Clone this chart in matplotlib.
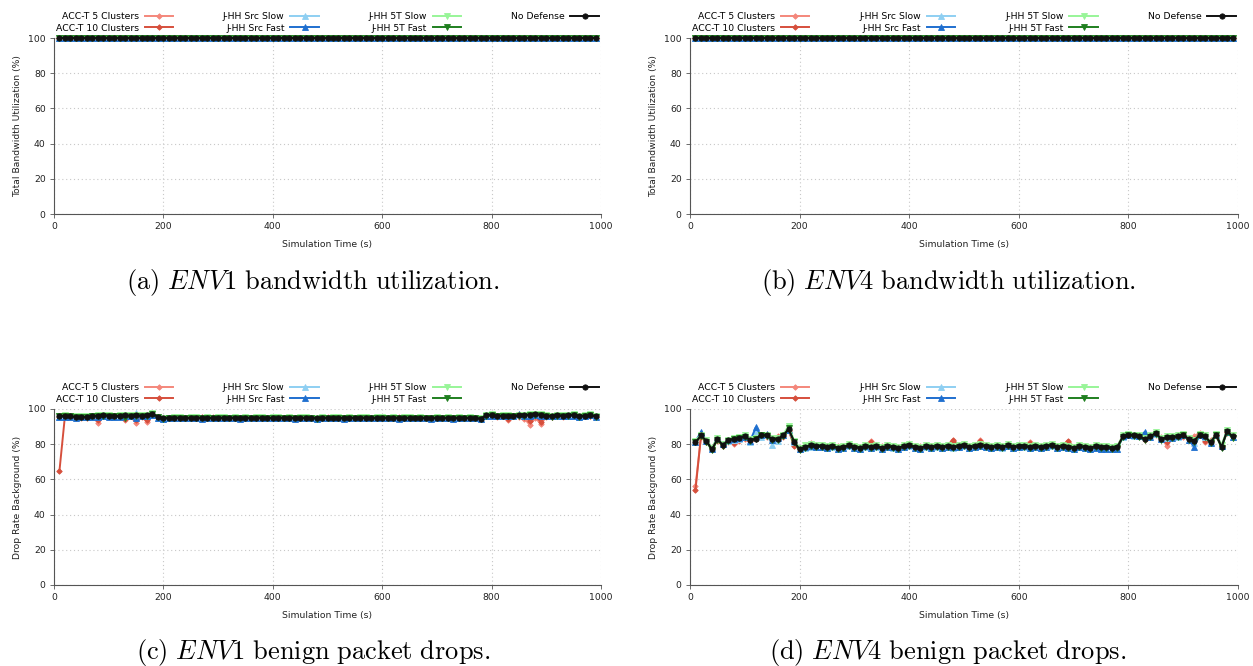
import matplotlib
matplotlib.use("Agg")
import matplotlib.pyplot as plt

plt.rcParams['font.family'] = ['DejaVu Sans']
plt.rcParams['mathtext.fontset'] = 'cm'

# ---------------- data ----------------
time_s = list(range(10, 1000, 10))  # 99 sample times

series_labels = ["ACC-T 5 Clusters", "ACC-T 10 Clusters", "J-HH Src Slow",
                 "J-HH Src Fast", "J-HH 5T Slow", "J-HH 5T Fast", "No Defense"]

# (a)/(b): total bandwidth utilization - every series sits at 100 %
env1_util = [100.0] * 99
env4_util = [100.0] * 99

# (c) ENV1 benign drop rate (%)
env1_acc5 = [95.6, 95.8, 95.5, 95.0, 94.8, 95.2, 95.5, 92.3, 95.8, 95.5, 95.2, 95.6, 93.8, 95.8, 92.0, 95.5, 92.8, 96.6,
             95.2, 94.9, 95.0, 95.2, 94.9, 95.1, 95.0, 94.8, 95.1, 95.0,
             95.2, 94.9, 95.0, 95.1, 94.9, 95.0, 95.2, 95.0, 94.9, 95.0,
             95.1, 95.0, 95.3, 94.9, 95.0, 95.1, 95.0, 94.9, 95.0, 95.1,
             95.0, 95.2, 94.9, 95.0, 95.1, 95.0, 94.9, 95.0, 95.2, 95.0,
             95.0, 94.9, 95.1, 95.0, 95.2, 95.0, 94.9, 95.0, 95.1, 95.0,
             95.0, 94.9, 95.0, 95.1, 95.0, 94.9, 95.0, 95.1, 95.0, 94.8,
             96.0, 96.2, 95.5, 95.8, 93.8, 95.8, 95.5, 94.5, 91.0, 95.0, 91.5, 95.5, 95.2, 96.0, 95.5, 95.8, 96.0, 95.5, 95.8, 96.0, 95.5]
env1_acc10 = [65.0, 96.0, 95.8, 95.2, 95.5, 95.0, 95.8, 93.5, 96.2, 95.8, 95.5, 95.8, 94.5, 96.0, 94.0, 95.8, 93.5, 96.8,
              95.4, 94.8, 95.1, 95.0, 95.0, 94.9, 95.1, 95.0, 95.2, 94.9,
              95.0, 95.0, 95.1, 94.8, 95.0, 95.1, 95.0, 95.0, 94.9, 95.1,
              95.0, 95.0, 94.9, 95.0, 95.2, 95.0, 94.9, 95.1, 95.0, 95.0,
              95.0, 94.9, 95.1, 95.0, 95.0, 95.2, 94.9, 95.0, 95.0, 95.1,
              95.0, 95.0, 94.9, 95.1, 95.0, 95.0, 95.1, 94.9, 95.0, 95.0,
              95.1, 95.0, 94.9, 95.0, 95.0, 95.1, 95.0, 94.9, 95.0, 94.6,
              96.2, 96.4, 95.8, 96.0, 94.5, 96.0, 95.8, 95.5, 93.0, 95.8, 92.8, 96.0, 95.6, 96.2, 95.8, 96.0, 96.4, 95.5, 96.0, 96.2, 95.6]
env1_src_slow = [95.5, 95.8, 95.6, 95.2, 95.8, 95.4, 95.6, 95.8, 96.0, 95.8, 95.6, 95.9, 96.0, 96.2, 97.5, 96.0, 96.2, 96.8,
                 95.0, 94.6, 94.8, 94.9, 95.0, 94.8, 94.9, 95.0, 94.7, 94.9,
                 94.8, 95.0, 94.9, 94.8, 95.0, 94.7, 94.9, 94.8, 95.0, 94.9,
                 94.8, 94.9, 95.0, 94.8, 94.9, 94.7, 94.9, 95.0, 94.8, 94.6,
                 94.9, 94.8, 95.0, 94.9, 94.7, 94.9, 94.8, 95.0, 94.9, 94.8,
                 94.9, 95.0, 94.8, 94.9, 94.7, 94.9, 95.0, 94.8, 94.9, 94.8,
                 94.7, 94.9, 94.8, 94.9, 94.7, 94.9, 94.8, 94.9, 94.8, 94.4,
                 96.2, 96.4, 96.2, 96.5, 96.0, 96.2, 96.6, 96.3, 96.5, 96.8, 96.5, 96.0, 96.2, 96.4, 96.0, 96.2, 96.5, 95.6, 96.0, 96.4, 95.8]
env1_src_fast = [95.2, 95.5, 95.4, 95.0, 95.6, 95.2, 95.4, 95.6, 95.8, 95.6, 95.3, 95.6, 95.8, 95.8, 95.0, 95.8, 95.9, 96.5,
                 94.8, 94.5, 94.7, 94.8, 94.9, 94.7, 94.8, 94.9, 94.6, 94.8,
                 94.7, 94.9, 94.8, 94.7, 94.9, 94.6, 94.8, 94.7, 94.9, 94.8,
                 94.7, 94.8, 94.9, 94.7, 94.8, 94.6, 94.8, 94.9, 94.7, 94.5,
                 94.8, 94.7, 94.9, 94.8, 94.6, 94.8, 94.7, 94.9, 94.8, 94.7,
                 94.8, 94.9, 94.7, 94.8, 94.6, 94.8, 94.9, 94.7, 94.8, 94.7,
                 94.6, 94.8, 94.7, 94.8, 94.6, 94.8, 94.7, 94.8, 94.7, 94.3,
                 96.0, 96.2, 96.0, 96.3, 95.8, 96.0, 97.0, 96.2, 96.3, 96.6, 96.3, 95.8, 96.0, 96.2, 95.8, 96.0, 96.3, 95.4, 95.8, 96.8, 95.6]
env1_5t_slow = [96.2, 96.5, 96.2, 95.8, 96.0, 95.8, 96.2, 96.5, 96.8, 96.5, 96.3, 96.4, 96.8, 96.6, 96.6, 96.5, 96.8, 97.6,
                95.6, 95.0, 95.1, 95.2, 95.3, 95.1, 95.2, 95.3, 95.1, 95.2,
                95.1, 95.3, 95.2, 95.1, 95.3, 95.0, 95.2, 95.1, 95.3, 95.2,
                95.1, 95.2, 95.3, 95.1, 95.2, 95.0, 95.2, 95.3, 95.1, 94.9,
                95.2, 95.1, 95.3, 95.2, 95.0, 95.2, 95.1, 95.3, 95.2, 95.1,
                95.2, 95.3, 95.1, 95.2, 95.0, 95.2, 95.3, 95.1, 95.2, 95.1,
                95.0, 95.2, 95.1, 95.2, 95.0, 95.2, 95.1, 95.2, 95.1, 94.8,
                96.8, 97.0, 96.3, 96.6, 96.5, 96.3, 96.8, 96.7, 97.0, 97.2, 97.0, 96.5, 96.3, 96.8, 96.5, 96.7, 97.0, 96.0, 96.5, 96.9, 96.2]
env1_5t_fast = [95.8, 96.0, 95.8, 95.2, 95.3, 95.2, 95.8, 96.0, 96.3, 96.0, 95.8, 95.8, 95.0, 96.0, 96.2, 95.8, 96.0, 97.0,
                95.3, 94.6, 94.8, 94.9, 95.0, 94.8, 94.7, 94.9, 94.8, 94.9,
                94.8, 94.9, 94.8, 94.9, 94.9, 94.7, 94.8, 94.9, 94.8, 94.9,
                94.8, 94.7, 94.9, 94.9, 94.8, 94.8, 94.7, 94.9, 94.9, 94.5,
                94.8, 94.9, 94.9, 94.8, 94.7, 94.9, 94.8, 94.9, 94.9, 94.7,
                94.8, 94.9, 94.9, 94.8, 94.8, 94.7, 94.9, 94.9, 94.8, 94.8,
                94.7, 94.8, 94.7, 94.9, 94.7, 94.8, 94.8, 94.9, 94.8, 94.4,
                96.3, 96.4, 95.8, 96.1, 96.0, 95.8, 96.3, 96.2, 96.6, 96.8, 96.6, 96.0, 95.5, 96.3, 96.0, 96.2, 96.6, 95.5, 96.0, 96.4, 95.7]
env1_nodef = [96.0, 96.2, 96.0, 95.5, 95.6, 95.5, 96.0, 96.3, 96.6, 96.2, 96.0, 96.1, 96.4, 96.3, 96.5, 96.1, 96.4, 97.3,
              95.6, 94.8, 94.9, 95.0, 95.1, 95.0, 94.9, 95.1, 95.0, 95.0,
              94.9, 95.1, 95.0, 95.0, 95.1, 94.9, 95.0, 95.0, 95.0, 95.1,
              95.0, 94.9, 95.0, 95.1, 95.0, 95.0, 94.9, 95.0, 95.1, 94.7,
              95.0, 95.0, 95.1, 95.0, 94.9, 95.0, 95.0, 95.1, 95.0, 94.9,
              95.0, 95.0, 95.1, 95.0, 95.0, 94.9, 95.0, 95.1, 95.0, 95.0,
              94.9, 95.0, 94.9, 95.0, 95.0, 95.0, 94.9, 95.0, 95.0, 94.5,
              96.5, 96.6, 96.0, 96.3, 96.2, 96.0, 96.5, 96.4, 96.8, 97.0, 96.8, 96.2, 96.0, 96.5, 96.2, 96.4, 96.8, 95.8, 96.2, 96.6, 95.9]

# (d) ENV4 benign drop rate (%)
env4_acc5 = [56.0, 84.0, 81.0, 78.5, 82.0, 79.0, 81.5, 80.0, 82.0, 83.0, 82.0, 83.5, 84.0, 84.0, 82.0, 84.5, 84.0, 87.5, 80.0, 78.0, 79.5, 80.5, 79.5,
             79.5, 79.0, 79.8, 78.8, 79.0, 80.0, 79.0, 78.5, 79.5, 82.0,
             79.5, 78.8, 79.5, 79.0, 78.5, 79.8, 80.0, 79.0, 78.8, 79.5,
             79.0, 79.5, 79.0, 79.8, 82.0, 79.5, 80.0, 79.0, 79.5, 82.5,
             79.5, 79.0, 79.5, 79.0, 80.0, 79.0, 79.5, 79.5, 81.5, 79.5,
             79.0, 79.5, 80.0, 79.0, 79.5, 81.5, 78.5, 79.5, 79.0, 78.5,
             79.5, 79.0, 79.0, 78.5, 79.0,
             84.0, 85.0, 84.5, 85.0, 82.5, 85.0, 85.5, 84.0, 79.0, 84.5, 85.0, 84.0, 83.0, 84.5, 86.5, 81.0, 82.5, 84.5, 79.5, 86.5, 85.5]
env4_acc10 = [54.0, 84.5, 81.5, 78.0, 82.5, 79.0, 82.0, 80.5, 82.5, 83.5, 82.0, 83.0, 84.5, 84.5, 82.5, 84.0, 84.5, 88.0, 79.0, 77.5, 79.0, 80.0, 79.5,
              79.5, 79.0, 79.5, 78.5, 79.0, 80.0, 79.0, 78.5, 79.5, 81.5,
              79.5, 78.5, 79.5, 79.0, 78.5, 79.5, 80.0, 79.0, 78.5, 79.5,
              79.0, 79.5, 79.0, 79.5, 82.5, 79.5, 80.0, 79.0, 79.5, 82.0,
              79.5, 79.0, 79.5, 79.0, 80.0, 79.0, 79.5, 79.5, 80.5, 79.5,
              79.0, 79.5, 80.0, 79.0, 79.5, 82.0, 78.5, 79.5, 79.0, 78.5,
              79.5, 79.0, 79.0, 78.5, 79.0,
              84.5, 85.5, 85.0, 84.5, 83.0, 84.5, 86.0, 83.5, 81.0, 84.5, 84.5, 85.0, 83.0, 83.0, 86.0, 82.0, 82.0, 85.0, 79.0, 87.0, 85.0]
env4_src_slow = [81.5, 86.0, 82.5, 78.0, 83.0, 80.0, 82.0, 82.5, 83.0, 84.0, 81.5, 87.0, 84.0, 85.5, 79.5, 82.0, 85.0, 88.0, 81.0, 77.5, 78.0, 78.5, 78.5,
                 78.5, 78.0, 78.5, 77.5, 78.0, 79.0, 78.0, 77.5, 78.5, 78.0,
                 78.5, 77.5, 78.5, 78.0, 77.5, 78.5, 79.0, 78.0, 77.5, 78.5,
                 78.0, 78.5, 78.0, 78.5, 78.0, 78.5, 79.0, 78.0, 78.5, 79.0,
                 78.5, 78.0, 78.5, 78.0, 79.0, 78.0, 78.5, 78.5, 78.0, 78.5,
                 78.0, 78.5, 79.0, 78.0, 78.5, 78.0, 77.5, 78.5, 78.0, 77.5,
                 78.0, 77.5, 77.5, 77.0, 77.5,
                 84.0, 85.0, 84.5, 85.5, 84.0, 85.0, 86.0, 83.5, 83.5, 84.5, 84.0, 85.0, 82.5, 80.5, 85.0, 84.0, 81.5, 85.0, 79.0, 87.0, 84.0]
env4_src_fast = [81.5, 87.0, 82.0, 77.5, 83.5, 80.0, 82.5, 83.0, 83.5, 84.0, 82.0, 89.5, 85.0, 86.0, 82.5, 83.5, 85.5, 88.0, 82.0, 77.5, 78.5, 79.0, 78.5,
                 78.5, 78.0, 79.0, 77.5, 78.0, 79.5, 78.0, 77.5, 79.0, 78.0,
                 79.0, 77.5, 78.5, 78.5, 77.5, 78.5, 79.5, 78.0, 77.5, 79.0,
                 78.0, 79.0, 78.0, 78.5, 78.5, 78.5, 79.5, 78.0, 78.5, 79.0,
                 78.5, 78.0, 78.5, 78.5, 79.0, 78.0, 78.5, 79.0, 78.0, 78.5,
                 78.0, 78.5, 79.5, 78.0, 78.5, 78.0, 77.5, 78.5, 78.0, 77.0,
                 78.0, 77.0, 77.5, 77.0, 77.5,
                 84.5, 85.5, 85.5, 84.5, 87.0, 84.0, 86.5, 83.0, 84.5, 83.5, 84.5, 85.5, 82.5, 78.5, 85.0, 84.5, 80.5, 85.5, 79.0, 87.0, 84.0]
env4_5t_slow = [82.0, 85.5, 82.5, 78.0, 83.5, 80.0, 82.5, 83.5, 84.0, 85.0, 83.0, 83.5, 85.0, 85.5, 83.5, 83.5, 85.5, 90.5, 82.0, 78.0, 79.5, 80.0, 79.5,
                79.5, 79.0, 79.5, 78.5, 79.0, 80.0, 79.0, 78.5, 79.5, 79.0,
                79.5, 78.5, 79.5, 79.0, 78.5, 79.5, 80.0, 79.0, 78.5, 79.5,
                79.0, 79.5, 79.0, 79.5, 79.0, 79.5, 80.0, 79.0, 79.5, 80.0,
                79.5, 79.0, 79.5, 79.0, 80.0, 79.0, 79.5, 79.5, 79.0, 79.5,
                79.0, 79.5, 80.0, 79.0, 79.5, 79.0, 78.5, 79.5, 79.0, 78.5,
                79.5, 79.0, 79.0, 78.5, 79.0,
                85.0, 86.0, 85.5, 85.0, 83.5, 85.0, 87.0, 83.5, 84.5, 84.5, 85.0, 86.0, 83.5, 82.5, 86.0, 85.0, 81.5, 86.0, 79.5, 88.0, 85.0]
env4_5t_fast = [81.0, 84.5, 81.5, 76.5, 82.5, 79.0, 82.0, 83.0, 83.5, 84.0, 82.0, 83.0, 85.0, 84.5, 82.5, 82.5, 84.5, 89.0, 81.0, 76.5, 78.0, 79.0, 78.5,
                78.5, 78.0, 78.5, 77.5, 78.0, 79.0, 78.0, 77.5, 78.5, 78.0,
                78.5, 77.5, 78.5, 78.0, 77.5, 78.5, 79.0, 78.0, 77.5, 78.5,
                78.0, 78.5, 78.0, 78.5, 78.0, 78.5, 79.0, 78.0, 78.5, 79.0,
                78.5, 78.0, 78.5, 78.0, 79.0, 78.0, 78.5, 78.5, 78.0, 78.5,
                78.0, 78.5, 79.0, 78.0, 78.5, 78.0, 77.5, 78.5, 78.0, 77.5,
                78.5, 78.0, 78.0, 77.5, 78.0,
                84.0, 85.0, 84.5, 84.0, 82.5, 84.0, 86.0, 82.5, 83.5, 83.5, 84.0, 85.0, 82.5, 81.5, 85.0, 84.0, 80.5, 85.0, 78.0, 87.0, 83.5]
env4_nodef = [81.0, 85.0, 82.0, 77.0, 83.0, 79.5, 82.5, 83.0, 83.5, 84.5, 82.5, 83.0, 85.5, 85.0, 83.0, 83.0, 85.0, 88.5, 81.5, 77.0, 78.5, 79.5, 79.0,
              79.0, 78.5, 79.0, 78.0, 78.5, 79.5, 78.5, 78.0, 79.0, 78.5,
              79.0, 78.0, 79.0, 78.5, 78.0, 79.0, 79.5, 78.5, 78.0, 79.0,
              78.5, 79.0, 78.5, 79.0, 78.5, 79.0, 79.5, 78.5, 79.0, 79.5,
              79.0, 78.5, 79.0, 78.5, 79.5, 78.5, 79.0, 79.0, 78.5, 79.0,
              78.5, 79.0, 79.5, 78.5, 79.0, 78.5, 78.0, 79.0, 78.5, 78.0,
              79.0, 78.5, 78.5, 78.0, 78.5,
              84.5, 85.5, 85.0, 84.5, 83.0, 84.5, 86.5, 83.0, 84.0, 84.0, 84.5, 85.5, 83.0, 82.0, 85.5, 84.5, 81.0, 85.5, 78.5, 87.5, 84.5]

x_ticks = [0, 200, 400, 600, 800, 1000]
y_ticks = [0, 20, 40, 60, 80, 100]

# ---------------- styles ----------------
colors = ["#f4877b", "#d64f3c", "#8ecff2", "#1f6fcf", "#98f598", "#1f7f1f", "#111111"]
markers = ["D", "D", "^", "^", "v", "v", "o"]
msizes = [2.8, 2.8, 3.8, 3.8, 3.8, 3.8, 3.8]

panels = [
    dict(pos=[54, 38, 601, 214], ylabel="Total Bandwidth Utilization (%)",
         data=[env1_util] * 7),
    dict(pos=[690, 38, 1238, 214], ylabel="Total Bandwidth Utilization (%)",
         data=[env4_util] * 7),
    dict(pos=[54, 409, 601, 585], ylabel="Drop Rate Background (%)",
         data=[env1_acc5, env1_acc10, env1_src_slow, env1_src_fast, env1_5t_slow, env1_5t_fast, env1_nodef]),
    dict(pos=[690, 409, 1238, 585], ylabel="Drop Rate Background (%)",
         data=[env4_acc5, env4_acc10, env4_src_slow, env4_src_fast, env4_5t_slow, env4_5t_fast, env4_nodef]),
]
captions = [
    (313, 282, r"$\mathrm{(a)}\ \mathit{ENV}\mathit{1}\ \mathrm{bandwidth\ utilization.}$"),
    (948, 282, r"$\mathrm{(b)}\ \mathit{ENV}\mathit{4}\ \mathrm{bandwidth\ utilization.}$"),
    (313, 652, r"$\mathrm{(c)}\ \mathit{ENV}\mathit{1}\ \mathrm{benign\ packet\ drops.}$"),
    (948, 652, r"$\mathrm{(d)}\ \mathit{ENV}\mathit{4}\ \mathrm{benign\ packet\ drops.}$"),
]

W, H = 1253, 666
fig = plt.figure(figsize=(W / 100, H / 100), dpi=100)
fs = 6.7
axis_col = "#555555"

for p in panels:
    for s in p["data"]:
        assert len(s) == len(time_s), len(s)
    x0, y0, x1, y1 = p["pos"]
    ax = fig.add_axes([x0 / W, 1 - y1 / H, (x1 - x0) / W, (y1 - y0) / H])
    for i, s in enumerate(p["data"]):
        ax.plot(time_s, s, color=colors[i], marker=markers[i], markersize=msizes[i],
                linewidth=1.4, label=series_labels[i], markeredgewidth=0.6,
                markeredgecolor=colors[i], clip_on=False, zorder=3 + i)
    ax.set_xlim(0, 1000)
    ax.set_ylim(0, 100)
    ax.set_xticks(x_ticks)
    ax.set_yticks(y_ticks)
    ax.grid(True, linestyle=(0, (1, 2.5)), color="#c8c8c8", linewidth=0.8)
    ax.set_axisbelow(True)
    for sp in ["top", "right"]:
        ax.spines[sp].set_visible(False)
    for sp in ["left", "bottom"]:
        ax.spines[sp].set_color(axis_col)
        ax.spines[sp].set_linewidth(0.8)
    ax.tick_params(labelsize=fs, colors=axis_col, labelcolor="#222222", length=3, width=0.6, pad=3)
    ax.set_xlabel("Simulation Time (s)", fontsize=fs, color="#222222", labelpad=6)
    ax.set_ylabel(p["ylabel"], fontsize=fs, color="#222222", labelpad=4)
    ax.legend(loc="lower left", bbox_to_anchor=(0.0, 1.02, 1.0, 0.1), mode="expand",
              ncol=4, frameon=False, fontsize=fs, markerfirst=False,
              handlelength=3.1, handletextpad=0.6, labelspacing=0.3,
              borderaxespad=0.0, borderpad=0.2)

for cx, cy, txt in captions:
    fig.text(cx / W, 1 - cy / H, txt, ha="center", va="center", fontsize=19)

fig.savefig("out.png", dpi=100)
